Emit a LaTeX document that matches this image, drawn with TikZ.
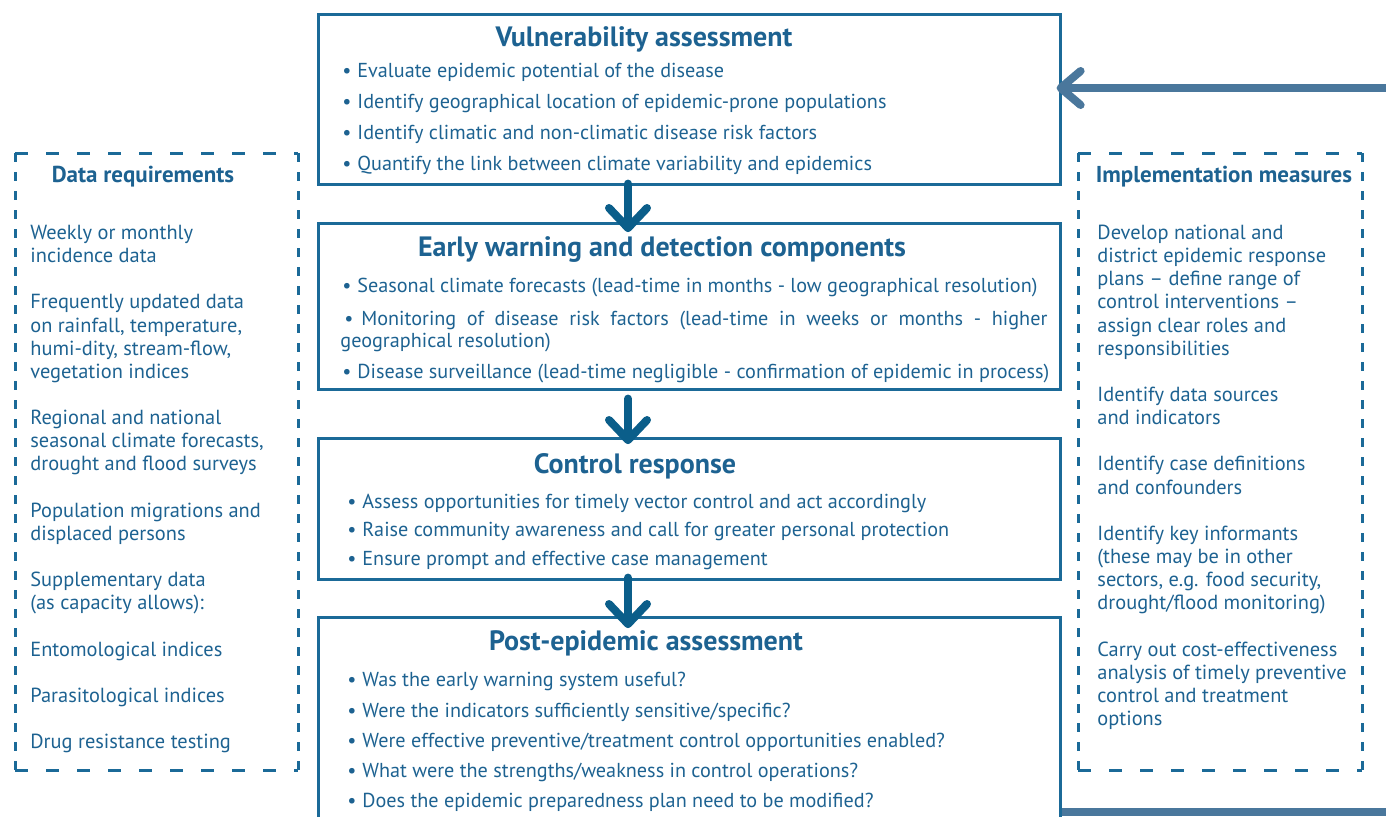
\documentclass[tikz,border=0pt]{standalone}
\usepackage{fontspec}
\setmainfont{PT Sans}
\usetikzlibrary{calc}
\definecolor{boxblue}{HTML}{1B6A98}
\definecolor{txtblue}{HTML}{1D6291}
\definecolor{arrblue}{HTML}{0B5E8A}
\definecolor{loopblue}{HTML}{4A779C}
\newcommand\bodyfont{\fontsize{10.1}{11}\selectfont}
\newcommand\sidefont{\fontsize{10.2}{11.5}\selectfont}
\tikzset{
  mainbox/.style={draw=boxblue, line width=1.3pt, minimum width=371pt, inner sep=0pt, anchor=north west},
  maintitle/.style={text=txtblue, font=\bfseries\fontsize{14}{16}\selectfont, anchor=base, inner sep=0pt},
  sidetitle/.style={text=txtblue, font=\bfseries\fontsize{11.5}{13}\selectfont, anchor=base, inner sep=0pt},
  bodytxt/.style={text=txtblue, font=\bodyfont, anchor=base west, inner sep=0pt},
  sidetxt/.style={text=txtblue, font=\sidefont, anchor=base west, inner sep=0pt},
  hdash/.style={draw=boxblue, line width=1.5pt, dash pattern=on 6.5pt off 9pt},
  vdash/.style={draw=boxblue, line width=1.5pt, dash pattern=on 4.5pt off 5pt},
  downarr/.style={draw=arrblue, line width=4pt, line cap=round, line join=round},
  looparr/.style={draw=loopblue, line width=4pt, line cap=round, line join=round},
}
\newcommand\mybullet[4]{%
  \node[bodytxt] at (#1,#3+7) {•};
  \node[bodytxt] at (#2,#3+7) {#4};}
\begin{document}
\begin{tikzpicture}[x=0.5pt,y=-0.5pt]
\useasboundingbox (0,0) rectangle (1386,816);
\clip (0,0) rectangle (1386,816);
% main boxes
\node[mainbox, minimum height=85pt] (vul) at (317,13) {};
\node[mainbox, minimum height=83pt] (ew) at (317,222) {};
\node[mainbox, minimum height=70.5pt] (cr) at (317,437) {};
\node[mainbox, minimum height=107pt] (post) at (317,616) {};
% titles
\node[maintitle] (tvul) at (644,46) {Vulnerability assessment};
\node[maintitle] (tew) at (662,256) {Early warning and detection components};
\node[maintitle] (tcr) at (635,473) {Control response};
\node[maintitle] (tpost) at (646,650) {Post-epidemic assessment};
% bullets
\mybullet{342}{357}{70}{Evaluate epidemic potential of the disease}
\mybullet{342}{357}{101}{Identify geographical location of epidemic-prone populations}
\mybullet{342}{357}{132}{Identify climatic and non-climatic disease risk factors}
\mybullet{342}{357}{163}{Quantify the link between climate variability and epidemics}
\mybullet{342}{357}{285}{Seasonal climate forecasts (lead-time in months - low geographical resolution)}
\node[bodytxt] (mon) at (340,325) {\parbox[t]{353.5pt}{\bodyfont\hyphenpenalty=10000\exhyphenpenalty=10000\hspace*{2pt}\makebox[8.5pt][l]{•}Monitoring of disease risk factors (lead-time in weeks or months - higher geographical resolution)}};
\mybullet{342}{357}{371}{Disease surveillance (lead-time negligible - confirmation of epidemic in process)}
\mybullet{347}{362}{501}{Assess opportunities for timely vector control and act accordingly}
\mybullet{347}{362}{529}{Raise community awareness and call for greater personal protection}
\mybullet{347}{362}{558}{Ensure prompt and effective case management}
\mybullet{347}{362}{679}{Was the early warning system useful?}
\mybullet{347}{362}{710}{Were the indicators sufficiently sensitive/specific?}
\mybullet{347}{362}{740}{Were effective preventive/treatment control opportunities enabled?}
\mybullet{347}{362}{770}{What were the strengths/weakness in control operations?}
\mybullet{347}{362}{800}{Does the epidemic preparedness plan need to be modified?}
% down arrows
\coordinate (ax) at (628,0);
\coordinate (a1s) at ([yshift=1pt]vul.south -| ax);
\coordinate (a1t) at ([yshift=-3pt]ew.north -| ax);
\coordinate (a2s) at ([yshift=-4pt]ew.south -| ax);
\coordinate (a2t) at ([yshift=-1.5pt]cr.north -| ax);
\coordinate (a3s) at ([yshift=1.5pt]cr.south -| ax);
\coordinate (a3t) at ([yshift=-4pt]post.north -| ax);
\foreach \s/\t in {a1s/a1t,a2s/a2t,a3s/a3t}{
  \draw[downarr] (\s) -- (\t);
  \draw[downarr] ($(\t)+(-19,-20)$) -- (\t) -- ($(\t)+(19,-20)$);
}
% feedback loop
\coordinate (lb) at (0,812);
\coordinate (lt) at ([xshift=-0.5pt]vul.east |- 0,88);
\draw[looparr, line cap=butt] (post.east |- lb) -- (1390,812) -- (1390,88) -- (lt);
\draw[looparr] ($(lt)+(20,-17)$) -- (lt) -- ($(lt)+(20,17)$);
% dashed side boxes
\draw[hdash] (15,153) -- (298,153);
\draw[hdash] (15,770) -- (298,770);
\draw[vdash] (15,153) -- (15,770);
\draw[vdash] (298,153) -- (298,770);
\draw[hdash] (1078,153) -- (1362,153);
\draw[hdash] (1078,770) -- (1362,770);
\draw[vdash] (1078,153) -- (1078,770);
\draw[vdash] (1362,153) -- (1362,770);
\node[sidetitle] (tdata) at (143,182) {Data requirements};
\node[sidetitle] (timpl) at (1224,182) {Implementation measures};
\foreach \y/\t in {232/{Weekly or monthly}, 255/{incidence data},
  301/{Frequently updated data}, 325/{on rainfall, temperature,}, 348/{humi-dity, stream-flow,}, 371/{vegetation indices},
  417/{Regional and national}, 440/{seasonal climate forecasts,}, 463/{drought and flood surveys},
  510/{Population migrations and}, 533/{displaced persons},
  579/{Supplementary data}, 602/{(as capacity allows):},
  649/{Entomological indices}, 695/{Parasitological indices}, 741/{Drug resistance testing}}{
  \node[sidetxt] (d\y) at (30,\y+7) {\t};
}
\foreach \y/\t in {232/{Develop national and}, 255/{district epidemic response}, 278/{plans – define range of},
  301/{control interventions –}, 325/{assign clear roles and}, 348/{responsibilities},
  394/{Identify data sources}, 417/{and indicators},
  463/{Identify case definitions}, 487/{and confounders},
  533/{Identify key informants}, 556/{(these may be in other}, 579/{sectors, e.g. food security,}, 602/{drought/flood monitoring)},
  649/{Carry out cost-effectiveness}, 672/{analysis of timely preventive}, 695/{control and treatment}, 718/{options}}{
  \node[sidetxt] (i\y) at (1097,\y+7) {\t};
}
\end{tikzpicture}
\end{document}
